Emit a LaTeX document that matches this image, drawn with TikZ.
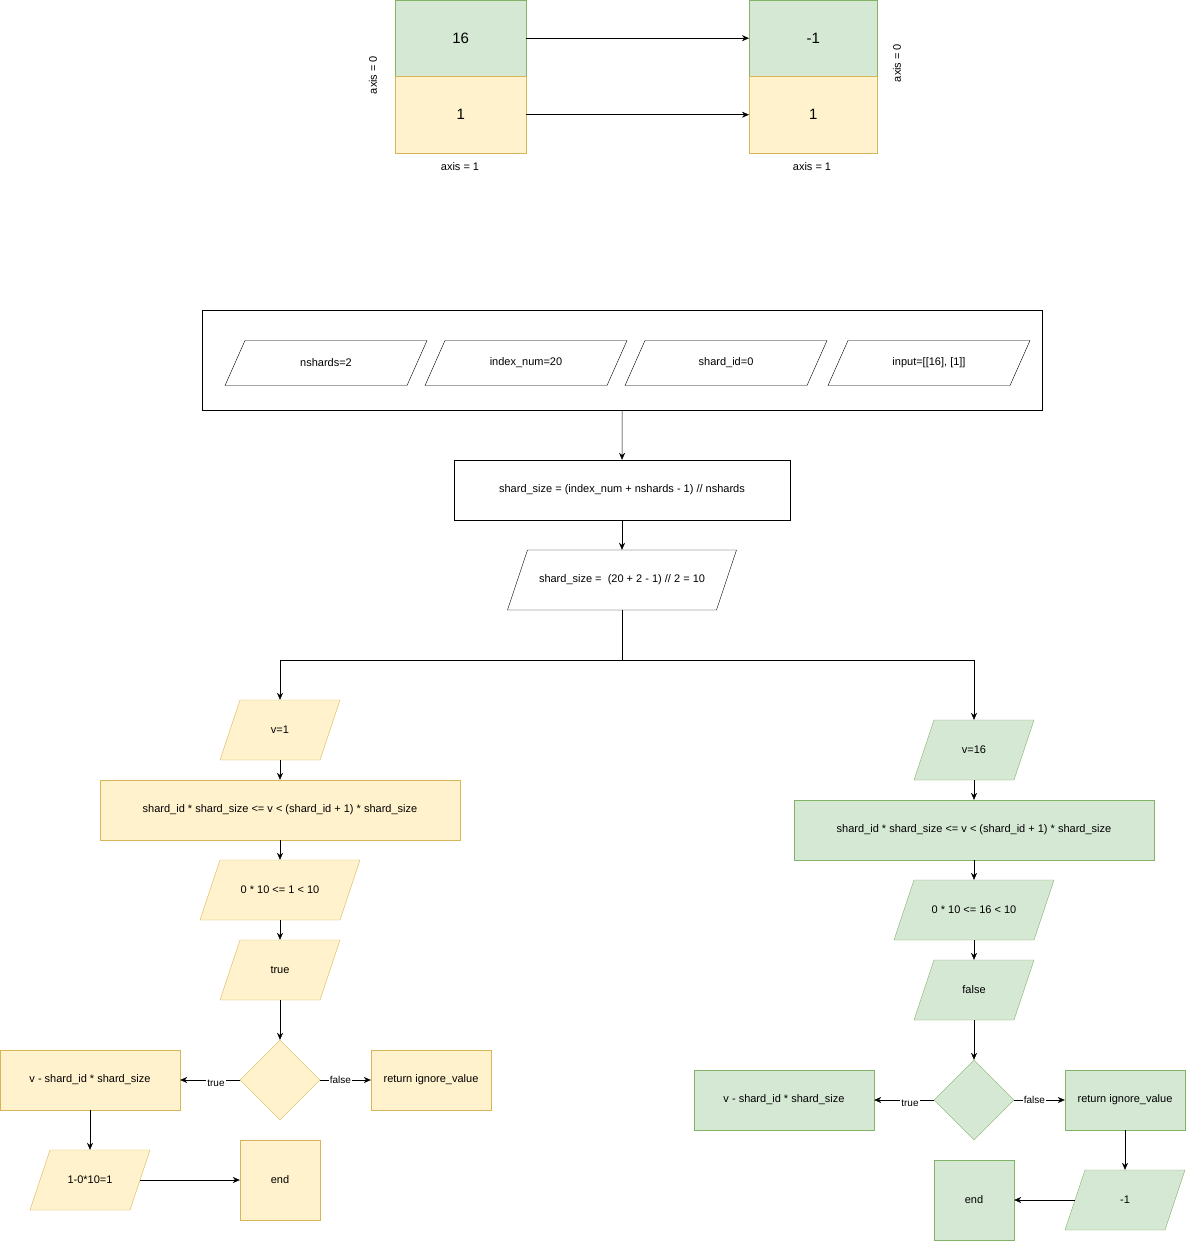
\documentclass[tikz,border=0pt]{standalone}
\usepackage{fontspec}
\setmainfont{Liberation Sans}
\usetikzlibrary{shapes.geometric,arrows.meta}
\definecolor{gf}{HTML}{D5E8D4}\definecolor{gs}{HTML}{82B366}
\definecolor{yf}{HTML}{FFF2CC}\definecolor{ys}{HTML}{D6B656}
\newcommand{\mypara}[8]{%
 \path[#7] (#2-#4/2,#3+#5/2) -- (#2-#4/2+#6,#3-#5/2) -- (#2+#4/2,#3-#5/2) -- (#2+#4/2-#6,#3+#5/2) -- cycle;
 \node[txt,minimum width=#4,minimum height=#5] (#1) at (#2,#3) {#8};}
\begin{document}
\begin{tikzpicture}[x=1pt,y=-1pt,
 txt/.style={font=\fontsize{11}{13}\selectfont,inner sep=0,draw=none,rectangle},
 wbox/.style={draw=black,fill=white},
 G/.style={draw=gs,fill=gf},Y/.style={draw=ys,fill=yf},
 arr/.style={-{Stealth[length=7,width=6]},black},
 lab/.style={font=\fontsize{10}{12}\selectfont,fill=white,inner sep=1pt}]
\useasboundingbox (0,0) rectangle (1186,1241);
% top
\node[G,minimum width=131,minimum height=76,anchor=north west,font=\fontsize{15}{17}\selectfont] (a1) at (395,0) {16};
\node[Y,minimum width=131,minimum height=77,anchor=north west,font=\fontsize{15}{17}\selectfont] (a2) at (395,76) {1};
\node[G,minimum width=128,minimum height=76,anchor=north west,font=\fontsize{15}{17}\selectfont] (b1) at (749,0) {-1};
\node[Y,minimum width=128,minimum height=77,anchor=north west,font=\fontsize{15}{17}\selectfont] (b2) at (749,76) {1};
\draw[arr] (a1) -- (b1); \draw[arr] (a2) -- (b2);
\node[txt] (l1) at (460,167) {axis = 1};
\node[txt] (l2) at (812,167) {axis = 1};
\node[txt,rotate=90] (l3) at (373,75) {axis = 0};
\node[txt,rotate=90] (l4) at (897,63) {axis = 0};
% inputs
\node[wbox,minimum width=840,minimum height=100,anchor=north west] (in) at (202,310) {};
\mypara{p1}{326}{363}{202}{45}{20}{wbox}{nshards=2}
\mypara{p2}{526}{363}{202}{45}{20}{wbox}{index\_num=20}
\mypara{p3}{726}{363}{202}{45}{20}{wbox}{shard\_id=0}
\mypara{p4}{929}{363}{202}{45}{20}{wbox}{input=[[16], [1]]}
\node[wbox,txt,draw,minimum width=336,minimum height=60] (ss) at (622,490) {shard\_size = (index\_num + nshards - 1) // nshards};
\mypara{ss2}{622}{580}{229}{60}{20}{wbox}{shard\_size = \ (20 + 2 - 1) // 2 = 10}
\draw[arr] (in) -- (ss); \draw[arr] (ss) -- (ss2);
% left
\mypara{v1}{280}{730}{120}{60}{20}{Y}{v=1}
\node[Y,txt,draw,minimum width=360,minimum height=60] (c1) at (280,810) {shard\_id * shard\_size <= v < (shard\_id + 1) * shard\_size};
\mypara{e1}{280}{890}{160}{60}{20}{Y}{0 * 10 <= 1 < 10}
\mypara{t1}{280}{970}{120}{60}{20}{Y}{true}
\node[Y,diamond,minimum width=80,minimum height=80,inner sep=0] (d1) at (280,1080) {};
\node[Y,txt,draw,minimum width=180,minimum height=60] (r1) at (90,1080) {v - shard\_id * shard\_size};
\node[Y,txt,draw,minimum width=120,minimum height=60] (i1) at (431,1080) {return ignore\_value};
\mypara{o1}{90}{1180}{120}{60}{20}{Y}{1-0*10=1}
\node[Y,circle,txt,draw,minimum size=80] (end1) at (280,1180) {end};
\draw[arr] (ss2) -- (622,660) -| (v1);
\draw[arr] (v1)--(c1); \draw[arr] (c1)--(e1); \draw[arr] (e1)--(t1); \draw[arr] (t1)--(d1);
\draw[arr] (d1) -- node[lab,pos=0.4,yshift=-3]{true} (r1);
\draw[arr] (d1) -- node[lab,pos=0.4]{false} (i1);
\draw[arr] (r1) -- (o1); \draw[arr] (o1.east) ++(-10,0) -- (end1);
% right
\mypara{v2}{974}{750}{120}{60}{20}{G}{v=16}
\node[G,txt,draw,minimum width=360,minimum height=60] (c2) at (974,830) {shard\_id * shard\_size <= v < (shard\_id + 1) * shard\_size};
\mypara{e2}{974}{910}{160}{60}{20}{G}{0 * 10 <= 16 < 10}
\mypara{t2}{974}{990}{120}{60}{20}{G}{false}
\node[G,diamond,minimum width=80,minimum height=80,inner sep=0] (d2) at (974,1100) {};
\node[G,txt,draw,minimum width=180,minimum height=60] (r2) at (784,1100) {v - shard\_id * shard\_size};
\node[G,txt,draw,minimum width=120,minimum height=60] (i2) at (1125,1100) {return ignore\_value};
\mypara{o2}{1125}{1200}{120}{60}{20}{G}{-1}
\node[G,circle,txt,draw,minimum size=80] (end2) at (974,1200) {end};
\draw[arr] (ss2) -- (622,660) -| (v2);
\draw[arr] (v2)--(c2); \draw[arr] (c2)--(e2); \draw[arr] (e2)--(t2); \draw[arr] (t2)--(d2);
\draw[arr] (d2) -- node[lab,pos=0.4,yshift=-3]{true} (r2);
\draw[arr] (d2) -- node[lab,pos=0.4]{false} (i2);
\draw[arr] (i2) -- (o2); \draw[arr] (o2.west) ++(10,0) -- (end2);
\end{tikzpicture}
\end{document}
